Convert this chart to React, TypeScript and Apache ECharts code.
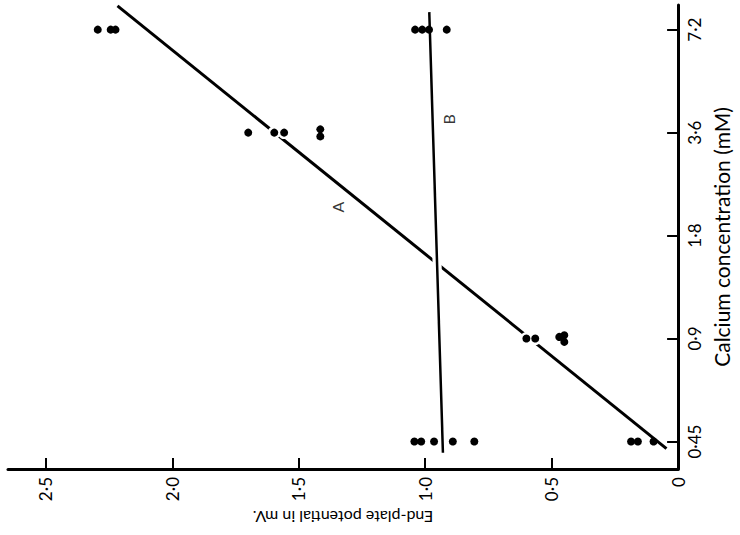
import React, { useEffect, useRef } from 'react';
import * as echarts from 'echarts';

// ---- Data ----
const BASE_CONC = 0.45; // mM, origin of the log2 concentration scale
const concTicks = [0.45, 0.9, 1.8, 3.6, 7.2];
const concTickLabels = ['0·45', '0·9', '1·8', '3·6', '7·2'];
const mvTicks = [0, 0.5, 1, 1.5, 2, 2.5];
const mvTickLabels = ['0', '0·5', '1·0', '1·5', '2·0', '2·5'];

const concAxisMin = 0.374;
const concAxisMax = 8.5;
const mvAxisMax = 2.65;

// Series A: points (Ca concentration mM, end-plate potential mV)
const aConc = [7.2, 7.2, 7.2, 3.6, 3.6, 3.6, 3.68, 3.51, 0.9, 0.9, 0.91, 0.92, 0.88, 0.45, 0.45, 0.45];
const aMv = [2.295, 2.244, 2.225, 1.7, 1.597, 1.558, 1.415, 1.415, 0.6, 0.565, 0.47, 0.45, 0.45, 0.186, 0.159, 0.097];

// Series B
const bConc = [7.2, 7.2, 7.2, 7.2, 0.45, 0.45, 0.45, 0.45, 0.45];
const bMv = [1.04, 1.012, 0.985, 0.915, 1.043, 1.016, 0.965, 0.891, 0.806];

// Fitted lines (end points)
const lineAConc = [8.45, 0.429];
const lineAMv = [2.217, 0.046];
const lineBConc = [8.1, 0.417];
const lineBMv = [0.984, 0.93];

// Line labels
const lineLabelText = ['A', 'B'];
const lineLabelConc = [2.18, 3.94];
const lineLabelMv = [1.345, 0.907];

// ---- Helpers ----
const toT = (c: number) => Math.log2(c / BASE_CONC);
const pts = (mv: number[], conc: number[]) => mv.map((m, i) => [m, toT(conc[i])]);
const findLabel = (vals: number[], labels: string[], v: number) => {
  const i = vals.findIndex((x) => Math.abs(x - v) < 1e-6);
  return i >= 0 ? labels[i] : '';
};

const INK = '#000';
const FONT = 'Lato';

export default function App() {
  const ref = useRef<HTMLDivElement>(null);

  useEffect(() => {
    if (!ref.current) return;
    const chart = echarts.init(ref.current, undefined, { renderer: 'svg' });

    const concTickT = concTicks.map(toT);
    const haloPts = pts(aMv, aConc).filter((_, i) => aConc[i] >= 0.9);

    chart.setOption({
      animation: false,
      backgroundColor: '#fff',
      grid: { left: 8, right: 48, top: 5, bottom: 66, containLabel: false },
      xAxis: {
        type: 'value',
        inverse: true,
        min: 0,
        max: mvAxisMax,
        position: 'bottom',
        splitLine: { show: false },
        axisLine: { show: true, onZero: false, lineStyle: { color: INK, width: 3 } },
        axisTick: { show: true, inside: true, length: 11, customValues: mvTicks, lineStyle: { color: INK, width: 2 } },
        axisLabel: {
          customValues: mvTicks,
          formatter: (v: number) => findLabel(mvTicks, mvTickLabels, v),
          rotate: 90,
          margin: 8,
          color: INK,
          fontSize: 17,
          fontFamily: FONT,
        },
        name: 'End-plate potential in mV.',
        nameLocation: 'middle',
        nameRotate: 180,
        nameGap: 39,
        nameTextStyle: { color: INK, fontSize: 16, fontFamily: FONT },
      },
      yAxis: {
        type: 'value',
        position: 'right',
        min: toT(concAxisMin),
        max: toT(concAxisMax),
        splitLine: { show: false },
        axisLine: { show: true, onZero: false, lineStyle: { color: INK, width: 3 } },
        axisTick: { show: true, inside: true, length: 11, customValues: concTickT, lineStyle: { color: INK, width: 2 } },
        axisLabel: {
          customValues: concTickT,
          formatter: (v: number) => findLabel(concTickT, concTickLabels, v),
          rotate: 90,
          margin: 8,
          color: INK,
          fontSize: 17,
          fontFamily: FONT,
        },
        name: 'Calcium concentration (mM)',
        nameLocation: 'middle',
        nameRotate: 90,
        nameGap: 26,
        nameTextStyle: { color: INK, fontSize: 21, fontFamily: FONT },
      },
      series: [
        {
          name: 'Line A',
          type: 'line',
          data: pts(lineAMv, lineAConc),
          showSymbol: false,
          lineStyle: { color: INK, width: 3 },
          z: 2,
        },
        {
          name: 'Halo A',
          type: 'scatter',
          data: haloPts,
          symbolSize: 13,
          itemStyle: { color: '#fff', opacity: 1 },
          z: 3,
        },
        {
          name: 'Line B gap',
          type: 'line',
          data: pts(lineBMv, lineBConc),
          showSymbol: false,
          lineStyle: { color: '#fff', width: 9 },
          z: 3,
        },
        {
          name: 'Line B',
          type: 'line',
          data: pts(lineBMv, lineBConc),
          showSymbol: false,
          lineStyle: { color: INK, width: 2.5 },
          z: 4,
        },
        {
          name: 'A',
          type: 'scatter',
          data: pts(aMv, aConc),
          symbolSize: 8,
          itemStyle: { color: INK, opacity: 1 },
          z: 5,
        },
        {
          name: 'B',
          type: 'scatter',
          data: pts(bMv, bConc),
          symbolSize: 8,
          itemStyle: { color: INK, opacity: 1 },
          z: 5,
        },
        {
          name: 'Labels',
          type: 'scatter',
          data: lineLabelText.map((t, i) => ({
            value: [lineLabelMv[i], toT(lineLabelConc[i])],
            label: { formatter: t },
          })),
          symbolSize: 1,
          itemStyle: { color: 'rgba(0,0,0,0)' },
          label: {
            show: true,
            position: 'inside',
            rotate: 90,
            color: INK,
            fontSize: 16,
            fontFamily: FONT,
          },
          z: 6,
        },
      ],
    });

    return () => chart.dispose();
  }, []);

  return (
    <div
      ref={ref}
      style={{ position: 'fixed', left: 0, top: 0, width: 740, height: 535 }}
    />
  );
}
